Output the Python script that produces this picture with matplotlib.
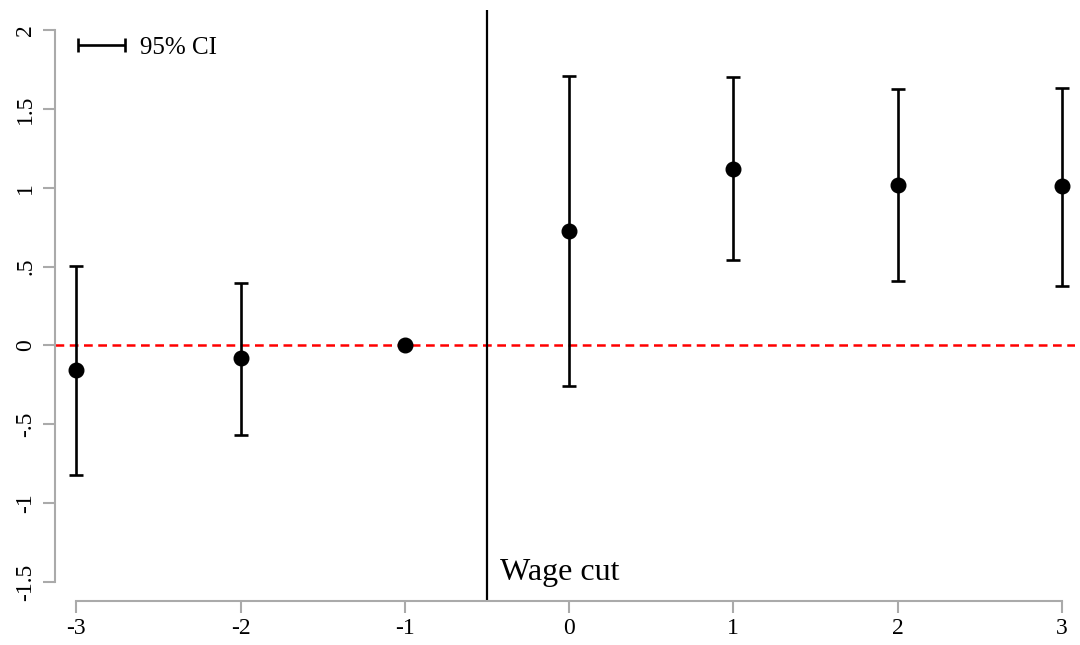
import numpy as np
import matplotlib.pyplot as plt
from matplotlib.legend_handler import HandlerErrorbar

# event time relative to the wage cut
periods = [-3, -2, -1, 0, 1, 2, 3]
coef = [-0.156, -0.08, 0.0, 0.725, 1.12, 1.02, 1.01]
ci_low = [-0.82, -0.568, np.nan, -0.257, 0.54, 0.408, 0.377]
ci_high = [0.504, 0.396, np.nan, 1.71, 1.70, 1.626, 1.633]
ytick_vals = [-1.5, -1, -0.5, 0, 0.5, 1, 1.5, 2]
ytick_labels = ['-1.5', '-1', '-.5', '0', '.5', '1', '1.5', '2']

plt.rcParams['font.family'] = ['Liberation Serif', 'DejaVu Serif']

fig = plt.figure(figsize=(10.8, 6.45), dpi=100)
ax = fig.add_axes([55 / 1080, 44 / 645, 1020 / 1080, 591 / 645])

coef = np.array(coef)
lo = np.array(ci_low)
hi = np.array(ci_high)
has_ci = ~np.isnan(lo)
x = np.array(periods)

ax.axhline(0, color='red', linestyle=(0, (3.5, 2.2)), linewidth=1.8, zorder=1)
ax.axvline(-0.5, color='black', linewidth=1.6, zorder=1)
ax.text(-0.42, -1.49, 'Wage cut', fontsize=23, ha='left', va='baseline')

ax.errorbar(x[has_ci], coef[has_ci],
            yerr=[coef[has_ci] - lo[has_ci], hi[has_ci] - coef[has_ci]],
            fmt='none', ecolor='black', elinewidth=1.9, capsize=5, capthick=1.9,
            zorder=2)
ax.plot(x, coef, 'o', color='black', markersize=10.5, zorder=3)

# legend proxy: horizontal bar with caps
ci_proxy = ax.errorbar([np.nan], [np.nan], xerr=[1], fmt='none', ecolor='black',
                       elinewidth=1.9, capsize=5, capthick=1.9, label='95% CI')

ax.set_xlim(-3.13, 3.08)
ax.set_ylim(-1.62, 2.127)
ax.set_xticks(periods)
ax.set_xticklabels([str(p) for p in periods])
ax.set_yticks(ytick_vals)
ax.set_yticklabels(ytick_labels, rotation=90, va='center')

for s in ['top', 'right']:
    ax.spines[s].set_visible(False)
ax.spines['left'].set_bounds(-1.5, 2)
ax.spines['bottom'].set_bounds(-3, 3)
for s in ['left', 'bottom']:
    ax.spines[s].set_color('#aaaaaa')
    ax.spines[s].set_linewidth(1.5)
ax.tick_params(axis='both', colors='#aaaaaa', length=8.5, width=1.5,
               labelsize=17, labelcolor='black')
ax.tick_params(axis='y', pad=5)
ax.tick_params(axis='x', pad=4)

ax.legend(loc='upper left', frameon=False, fontsize=18,
          handlelength=2.0, handletextpad=0.55,
          handler_map={type(ci_proxy): HandlerErrorbar(xerr_size=0.95)},
          bbox_to_anchor=(0.004, 0.985), borderaxespad=0.3)

fig.savefig('out.png', dpi=100)
